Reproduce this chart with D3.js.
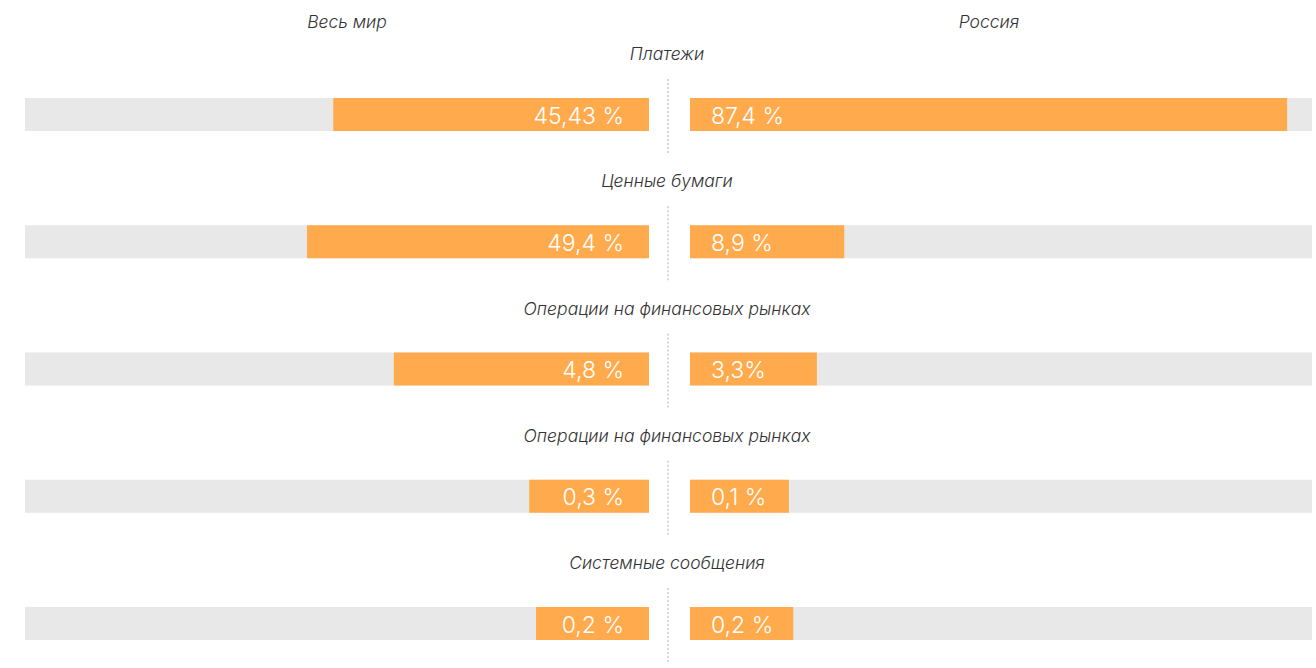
<!DOCTYPE html>
<html>
<head>
<meta charset="utf-8">
<script src="https://cdn.jsdelivr.net/npm/d3@7"></script>
<style>
  body { margin: 0; background: #fff; }
  .cat, .side { font-family: Inter, "Liberation Sans", sans-serif; font-weight: 300; font-style: italic; fill: #333; font-size: 17.5px; }
  .val { font-family: Inter, "Liberation Sans", sans-serif; font-weight: 300; fill: #fff; font-size: 23px; }
</style>
</head>
<body>
<div id="chart"></div>
<script>
// categories (section titles)
var categories = ["Платежи", "Ценные бумаги", "Операции на финансовых рынках", "Операции на финансовых рынках", "Системные сообщения"];
var sides = ["Весь мир", "Россия"];

// value labels as printed
var worldLabels = ["45,43 %", "49,4 %", "4,8 %", "0,3 %", "0,2 %"];
var russiaLabels = ["87,4 %", "8,9 %", "3,3%", "0,1 %", "0,2 %"];

// drawn bar fill, % of the grey track (bars in the original are not to scale)
var worldFill = [50.6, 54.8, 40.9, 19.2, 18.1];
var russiaFill = [96.0, 24.8, 20.4, 15.9, 16.6];

var width = 1316, height = 668;
var barH = 33;

var svg = d3.select("#chart").append("svg")
    .attr("width", width)
    .attr("height", height);

var y = d3.scaleLinear().domain([0, categories.length - 1]).range([98, 607]);
var xLeft = d3.scaleLinear().domain([0, 100]).range([649, 25]);
var xRight = d3.scaleLinear().domain([0, 100]).range([690, 1312]);
var mid = 668;

// side titles
svg.selectAll("text.side")
    .data(sides)
  .enter().append("text")
    .attr("class", "side")
    .attr("x", function(d, i) { return i == 0 ? mid - 321 : mid + 321; })
    .attr("y", 22)
    .attr("dy", "0.35em")
    .attr("text-anchor", "middle")
    .text(function(d) { return d; });

var rows = svg.selectAll("g.row")
    .data(categories)
  .enter().append("g")
    .attr("class", "row")
    .attr("transform", function(d, i) { return "translate(0," + y(i) + ")"; });

// category title
rows.append("text")
    .attr("class", "cat")
    .attr("x", mid - 1)
    .attr("y", -44)
    .attr("dy", "0.35em")
    .attr("text-anchor", "middle")
    .text(function(d) { return d; });

// center dashed line
rows.append("line")
    .attr("x1", mid).attr("x2", mid)
    .attr("y1", -19).attr("y2", 57)
    .attr("stroke", "#b0b0b0")
    .attr("stroke-width", 1)
    .attr("stroke-dasharray", "2,2");

// grey tracks
rows.append("rect")
    .attr("x", xLeft(100))
    .attr("width", xLeft(0) - xLeft(100))
    .attr("height", barH)
    .attr("fill", "#e8e8e8");
rows.append("rect")
    .attr("x", xRight(0))
    .attr("width", xRight(100) - xRight(0))
    .attr("height", barH)
    .attr("fill", "#e8e8e8");

// orange bars
rows.append("rect")
    .attr("x", function(d, i) { return xLeft(worldFill[i]); })
    .attr("width", function(d, i) { return xLeft(0) - xLeft(worldFill[i]); })
    .attr("height", barH)
    .attr("fill", "#ffaa4c");
rows.append("rect")
    .attr("x", xRight(0))
    .attr("width", function(d, i) { return xRight(russiaFill[i]) - xRight(0); })
    .attr("height", barH)
    .attr("fill", "#ffaa4c");

// value labels
rows.append("text")
    .attr("class", "val")
    .attr("x", xLeft(0) - 25)
    .attr("y", barH / 2 + 1)
    .attr("dy", "0.35em")
    .attr("text-anchor", "end")
    .text(function(d, i) { return worldLabels[i]; });
rows.append("text")
    .attr("class", "val")
    .attr("x", xRight(0) + 21)
    .attr("y", barH / 2 + 1)
    .attr("dy", "0.35em")
    .attr("text-anchor", "start")
    .text(function(d, i) { return russiaLabels[i]; });
</script>
</body>
</html>
